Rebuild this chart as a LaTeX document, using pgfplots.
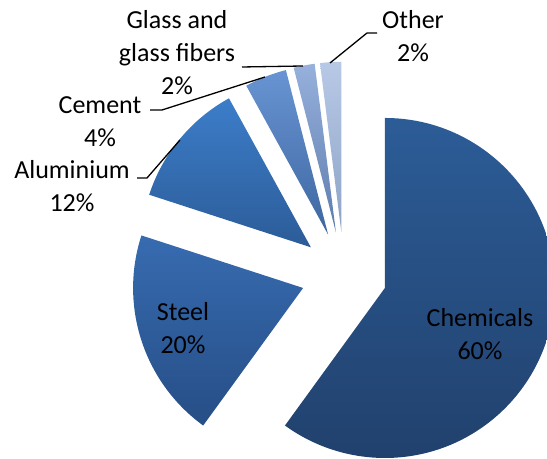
\documentclass[border=0pt]{standalone}
\usepackage{pgfplots}
\pgfplotsset{compat=1.18}
\usepackage{fontspec}
\setmainfont{Carlito}
\definecolor{chemT}{HTML}{2C5C97}
\definecolor{chemB}{HTML}{21416D}
\definecolor{steelT}{HTML}{376BB0}
\definecolor{steelB}{HTML}{264E86}
\definecolor{aluT}{HTML}{3C7DC9}
\definecolor{aluB}{HTML}{2C5C98}
\definecolor{cemT}{HTML}{6894D3}
\definecolor{cemB}{HTML}{3E67A0}
\definecolor{glaT}{HTML}{97B0DC}
\definecolor{glaB}{HTML}{5D7DAE}
\definecolor{othT}{HTML}{B8C9E6}
\definecolor{othB}{HTML}{8DA3C7}
\begin{document}
\begin{tikzpicture}
\begin{axis}[width=273.5pt,height=229.5pt,scale only axis,
  xmin=0,xmax=547,ymin=0,ymax=459,axis lines=none,clip=true]
\path (axis cs:0,0) rectangle (axis cs:547,459);
\gdef\startang{90}
% value (percent) / top colour / bottom colour
\foreach \v/\tc/\bc in {60/chemT/chemB,20/steelT/steelB,12/aluT/aluB,4/cemT/cemB,2/glaT/glaB,2/othT/othB}{
  \pgfmathsetmacro\endang{\startang-3.6*\v}
  \pgfmathsetmacro\midang{(\startang+\endang)/2}
  \pgfmathsetmacro\apx{344+43*cos(\midang)}
  \pgfmathsetmacro\apy{184.3+43*sin(\midang)}
  \edef\tmp{\noexpand\shade[top color=\tc, bottom color=\bc] (axis cs:\apx,\apy) -- ++(\startang:85pt) arc[start angle=\startang, end angle=\endang, radius=85pt] -- cycle;}
  \tmp
  \xdef\startang{\endang}
}
\draw[black, line width=0.65pt] (axis cs:137,281) -- (axis cs:147,281) -- (axis cs:180,319);
\draw[black, line width=0.65pt] (axis cs:150,349) -- (axis cs:162,349) -- (axis cs:265,382);
\draw[black, line width=0.65pt] (axis cs:242,392) -- (axis cs:303,393);
\draw[black, line width=0.65pt] (axis cs:330,396) -- (axis cs:367,426) -- (axis cs:377,426);
\begin{scope}[every node/.style={align=center, inner sep=0pt, font=\fontsize{13}{16.5}\selectfont}]
\node at (axis cs:480,125) {Chemicals\\60\%};
\node at (axis cs:183,130.5) {Steel\\20\%};
\node at (axis cs:72,272.5) {Aluminium\\12\%};
\node at (axis cs:100,337.5) {Cement\\4\%};
\node at (axis cs:177,406) {Glass and\\glass fibers\\2\%};
\node at (axis cs:413,422.5) {Other\\2\%};
\end{scope}
\end{axis}
\end{tikzpicture}
\end{document}
